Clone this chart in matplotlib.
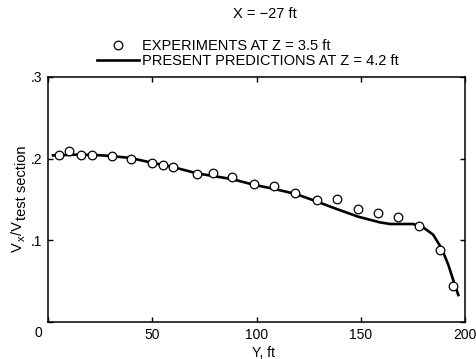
import matplotlib

matplotlib.use("Agg")
import matplotlib.pyplot as plt

plt.rcParams["font.family"] = ["Liberation Sans", "DejaVu Sans"]

# experiments at Z = 3.5 ft
exp_y = [5.4, 10.2, 15.7, 21.0, 30.6, 39.7, 50.0, 55.3, 59.8, 71.6, 79.0, 88.4,
         98.9, 108.5, 118.5, 128.9, 138.7, 148.8, 158.4, 168.0, 177.8, 188.0, 194.1]
exp_v = [0.204, 0.209, 0.205, 0.205, 0.203, 0.200, 0.195, 0.192, 0.190, 0.181,
         0.182, 0.177, 0.169, 0.166, 0.158, 0.149, 0.151, 0.138, 0.133, 0.128,
         0.118, 0.088, 0.044]

# predictions at Z = 4.2 ft
pred_y = [2.4, 15.3, 26.4, 39.3, 49.9, 59.5, 71.5, 88.2, 98.8, 108.4, 118.5,
          128.5, 136.7, 148.7, 159.2, 164.0, 168.8, 175.1, 179.9, 184.7, 188.8,
          192.0, 194.4, 196.8]
pred_v = [0.204, 0.205, 0.204, 0.201, 0.195, 0.190, 0.182, 0.175, 0.168, 0.163,
          0.157, 0.148, 0.140, 0.129, 0.122, 0.120, 0.120, 0.120, 0.116, 0.107,
          0.090, 0.070, 0.051, 0.033]

xticks = [0, 50, 100, 150, 200]
xlabels = ["", "50", "100", "150", "200"]
yticks = [0, 0.1, 0.2, 0.3]
ylabels = ["", ".1", ".2", ".3"]

W, H = 476, 359
FS = 10.5
fig = plt.figure(figsize=(W / 100, H / 100), dpi=100)
ax = fig.add_axes([48 / W, (H - 322) / H, (465 - 48) / W, (322 - 77) / H])

ax.plot(pred_y, pred_v, color="black", lw=1.9, zorder=2,
        label="PRESENT PREDICTIONS AT Z = 4.2 ft")
ax.plot(exp_y, exp_v, "o", ms=6.2, mfc="white", mec="black", mew=0.9, zorder=3,
        label="EXPERIMENTS AT Z = 3.5 ft")

ax.set_xlim(0, 200)
ax.set_ylim(0, 0.3)
ax.set_xticks(xticks)
ax.set_xticklabels(xlabels)
ax.set_yticks(yticks)
ax.set_yticklabels(ylabels)
ax.tick_params(direction="in", length=3.5, width=1, top=True, right=True,
               labelsize=10, pad=4)
for s in ax.spines.values():
    s.set_linewidth(1.1)
ax.text(-0.023, -0.045, "0", transform=ax.transAxes, ha="center", va="center",
        fontsize=10)

ax.set_xlabel("Y, ft", fontsize=10, va="center")
ax.xaxis.set_label_coords(0.516, -0.127)

# y label V_x/V_test section, pieced together so the subscripts keep their size
ylab = [("V", 252, 22, FS), ("x", 241, 25, 8), ("/V", 235, 22, FS),
        ("test section", 219.5, 26, 10.5)]
for txt, ypx, xpx, fs in ylab:
    fig.text(xpx / W, 1 - ypx / H, txt, rotation=90, rotation_mode="anchor",
             ha="left", va="baseline", fontsize=fs)

fig.text(265 / W, 1 - 14 / H, "X = \u221227 ft", ha="center", va="center",
         fontsize=FS)

h, l = ax.get_legend_handles_labels()
ax.legend(h[::-1], l[::-1], loc="upper left", frameon=False, fontsize=FS,
          handlelength=2.9, handletextpad=0.2, labelspacing=0.05,
          borderaxespad=0, borderpad=0,
          bbox_to_anchor=(97 / W, 1 - 39 / H), bbox_transform=fig.transFigure)

fig.savefig("out.png", dpi=100)
